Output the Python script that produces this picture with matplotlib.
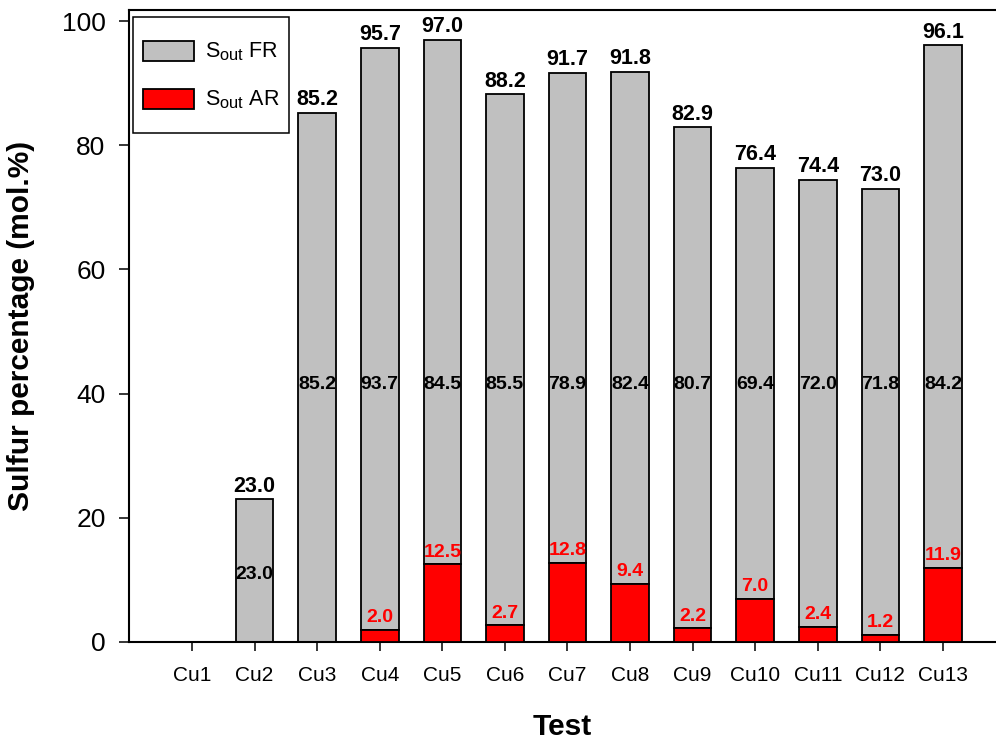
import matplotlib
matplotlib.use("Agg")
import matplotlib.pyplot as plt
import matplotlib._mathtext as mathtext_core
import matplotlib.patches as mpatches
from matplotlib.legend_handler import HandlerPatch
import numpy as np

# Sulfur leaving each test, split between the fuel reactor (FR) and air reactor (AR)
tests = ["Cu1", "Cu2", "Cu3", "Cu4", "Cu5", "Cu6", "Cu7",
         "Cu8", "Cu9", "Cu10", "Cu11", "Cu12", "Cu13"]
s_out_ar = [0.0, 0.0, 0.0, 2.0, 12.5, 2.7, 12.8, 9.4, 2.2, 7.0, 2.4, 1.2, 11.9]
s_out_fr = [0.0, 23.0, 85.2, 93.7, 84.5, 85.5, 78.9, 82.4, 80.7, 69.4, 72.0, 71.8, 84.2]
y_ticks = [0, 20, 40, 60, 80, 100]

plt.rcParams["font.family"] = ["Liberation Sans", "DejaVu Sans"]
plt.rcParams["mathtext.fontset"] = "custom"
plt.rcParams["mathtext.rm"] = "Liberation Sans"
plt.rcParams["mathtext.it"] = "Liberation Sans:italic"
plt.rcParams["mathtext.bf"] = "Liberation Sans:bold"
# slightly larger subscripts than the mathtext default
mathtext_core.SHRINK_FACTOR = 0.76

GRAY = "#C0C0C0"
RED = "#FF0000"
EDGE_LW = 1.3
FR_LABEL = r"S$_{\mathrm{out}}$ FR"
AR_LABEL = r"S$_{\mathrm{out}}$ AR"

fig = plt.figure(figsize=(9.96, 7.45), dpi=100)
ax = fig.add_axes([0.130, 0.1383, 1.0095 - 0.130, 0.9866 - 0.1383])

x = np.arange(len(tests))
ar = np.array(s_out_ar)
fr = np.array(s_out_fr)
total = ar + fr
width = 0.6

has_fr = fr > 0
has_ar = ar > 0

ax.bar(x[has_fr], fr[has_fr], width, bottom=ar[has_fr], color=GRAY,
       edgecolor="black", linewidth=EDGE_LW, zorder=2)
ax.bar(x[has_ar], ar[has_ar], width, color=RED,
       edgecolor="black", linewidth=EDGE_LW, zorder=3)

# Totals above each stack
for xi, t in zip(x[has_fr], total[has_fr]):
    ax.annotate(f"{t:.1f}", (xi, t), xytext=(0, 5.5), textcoords="offset points",
                ha="center", va="baseline", fontsize=15.5, fontweight="bold",
                color="black", zorder=5)

# FR share written inside the grey segment, on a common level
mid_level = 42.2
for xi, f, t in zip(x[has_fr], fr[has_fr], total[has_fr]):
    y_lab = mid_level if t > mid_level else t / 2.0
    ax.annotate(f"{f:.1f}", (xi, y_lab), xytext=(0, -3), textcoords="offset points",
                ha="center", va="center", fontsize=14, fontweight="bold",
                color="black", zorder=5)

# AR share written just above the red segment
for xi, a in zip(x[has_ar], ar[has_ar]):
    ax.annotate(f"{a:.1f}", (xi, a), xytext=(0, 5.5), textcoords="offset points",
                ha="center", va="baseline", fontsize=14, fontweight="bold",
                color=RED, zorder=5)

ax.set_xlim(-1, 13)
ax.set_ylim(0, 101.8)
ax.set_xticks(x)
ax.set_xticklabels(tests, fontsize=15)
ax.set_yticks(y_ticks)
ax.set_yticklabels([str(v) for v in y_ticks], fontsize=19)

ax.tick_params(axis="x", direction="out", length=6.5, width=1.1, pad=11, top=False)
ax.tick_params(axis="y", direction="out", length=7.2, width=1.1, pad=10, right=False)

for side in ["left", "bottom", "top", "right"]:
    ax.spines[side].set_linewidth(1.5)
    ax.spines[side].set_color("black")

ax.set_xlabel("Test", fontsize=21.5, fontweight="bold")
ax.xaxis.set_label_coords(0.4943, -0.112)
ax.set_ylabel("Sulfur percentage (mol.%)", fontsize=21.5, fontweight="bold", labelpad=19)


def legend_box(legend, orig_handle, xdescent, ydescent, width, height, fontsize):
    # swatch shorter than the row so the entries sit further apart
    h = 0.93 * fontsize
    return mpatches.Rectangle((-xdescent, -ydescent + (height - h) / 2.0), width, h)


handles = [
    mpatches.Patch(facecolor=GRAY, edgecolor="black", linewidth=EDGE_LW, label=FR_LABEL),
    mpatches.Patch(facecolor=RED, edgecolor="black", linewidth=EDGE_LW, label=AR_LABEL),
]
leg = ax.legend(handles=handles, loc="upper left",
                bbox_to_anchor=(133 / 996, 1 - 17.3 / 745),
                bbox_transform=fig.transFigure, borderaxespad=0,
                fontsize=15.5, handlelength=2.4, handleheight=3.05,
                handletextpad=0.5, labelspacing=0.0, borderpad=0.45,
                fancybox=False, framealpha=1, edgecolor="black",
                handler_map={mpatches.Patch: HandlerPatch(patch_func=legend_box)})
leg.get_frame().set_linewidth(1.1)

fig.savefig("out.png", dpi=100)
